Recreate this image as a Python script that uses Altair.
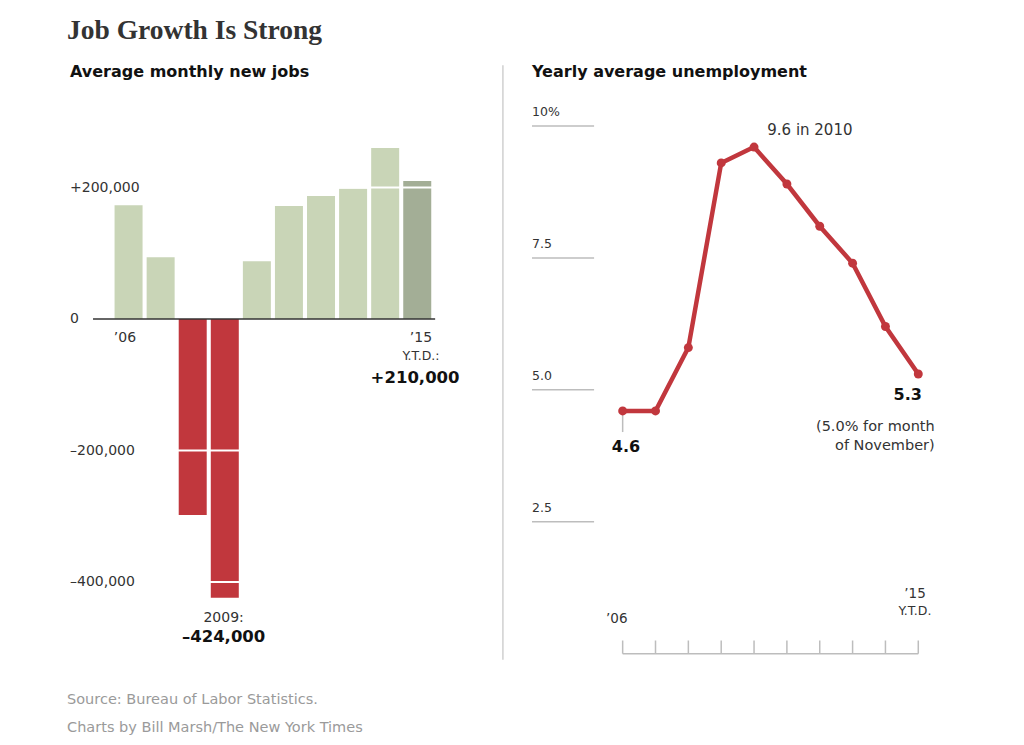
import altair as alt
import pandas as pd

# ---------------- data ----------------
years = list(range(2006, 2016))
new_jobs = [173000, 94000, -298000, -424000, 88000, 172000, 187000, 198000, 260000, 210000]
bar_kind = ["year", "year", "loss", "loss", "year", "year", "year", "year", "year", "ytd"]
unemployment = [4.6, 4.6, 5.8, 9.3, 9.6, 8.9, 8.1, 7.4, 6.2, 5.3]
job_ticks = [-400000, -200000, 0, 200000]
job_tick_labels = ["\u2013400,000", "\u2013200,000", "0", "+200,000"]
rate_ticks = [2.5, 5.0, 7.5, 10.0]
rate_tick_labels = ["2.5", "5.0", "7.5", "10%"]

SANS = "DejaVu Sans"
SERIF = "Liberation Serif"
INK = "#333333"
GREY = "#bdbdbd"
RED = "#c1373d"

# Both panels share one canvas; each has its own scales (explicit domain + range).
# ---------------- left panel: monthly new jobs ----------------
LX = [2004.33, 2016.52]
LX_RANGE = [62, 463]
LY = [-520000, 333000]
LY_RANGE = [653.0, 92.05]


def lx(f="x"):
    return alt.X(f"{f}:Q", scale=alt.Scale(domain=LX, range=LX_RANGE, nice=False, zero=False), axis=None)


def ly(f="y"):
    return alt.Y(f"{f}:Q", scale=alt.Scale(domain=LY, range=LY_RANGE, nice=False, zero=False), axis=None)


jobs_df = pd.DataFrame({"x": years, "y": new_jobs, "kind": bar_kind})

bars = alt.Chart(jobs_df).mark_bar(size=28).encode(
    x=lx(),
    y=ly(),
    y2=alt.datum(0),
    color=alt.Color("kind:N", legend=None,
                    scale=alt.Scale(domain=["year", "loss", "ytd"],
                                    range=["#c9d5b7", RED, "#a3ae96"])),
)

white_grid = alt.Chart(pd.DataFrame({
    "x": [2005.5] * 3, "x2": [2015.5] * 3, "y": [200000, -200000, -400000]
})).mark_rule(color="white", strokeWidth=2).encode(x=lx(), x2="x2:Q", y=ly())

zero_line = alt.Chart(pd.DataFrame({"x": [2005.03], "x2": [2015.43], "y": [0]})).mark_rule(
    color="#333333", strokeWidth=1.5).encode(x=lx(), x2="x2:Q", y=ly())

divider = alt.Chart(pd.DataFrame({"x": [2017.49], "y": [386000], "y2": [-518000]})).mark_rule(
    color="#d0d0d0", strokeWidth=1.5).encode(x=lx(), y=ly(), y2="y2:Q")


def ltext(rows, **kw):
    return alt.Chart(pd.DataFrame(rows)).mark_text(**kw).encode(x=lx(), y=ly(), text="t:N")


left_tick_text = ltext({"x": [2004.33] * 4, "y": job_ticks, "t": job_tick_labels},
                       font=SANS, fontSize=14, color=INK, align="left", baseline="middle")
title = ltext({"x": [2004.24], "y": [438000], "t": ["Job Growth Is Strong"]},
              font=SERIF, fontSize=27.5, fontWeight="bold", color=INK, align="left", baseline="middle")
left_sub = ltext({"x": [2004.33], "y": [375700], "t": ["Average monthly new jobs"]},
                 font=SANS, fontSize=16, fontWeight="bold", color="#111111", align="left",
                 baseline="middle")
left_year_labels = ltext({"x": [2006, 2015], "y": [-29000, -29000], "t": ["\u201906", "\u201915"]},
                         font=SANS, fontSize=14, color=INK)
ytd_label = ltext({"x": [2015], "y": [-56500], "t": ["Y.T.D.:"]},
                  font=SANS, fontSize=12.5, color=INK)
ytd_value = ltext({"x": [2014.82], "y": [-90000], "t": ["+210,000"]},
                  font=SANS, fontSize=16.5, fontWeight="bold", color="#111111")
low_label = ltext({"x": [2009], "y": [-455000], "t": ["2009:"]},
                  font=SANS, fontSize=14, color=INK)
low_value = ltext({"x": [2009], "y": [-484000], "t": ["\u2013424,000"]},
                  font=SANS, fontSize=16.5, fontWeight="bold", color="#111111")
footer = ltext({"x": [2004.24, 2004.24], "y": [-579500, -622000],
                "t": ["Source: Bureau of Labor Statistics.",
                      "Charts by Bill Marsh/The New York Times"]},
               font=SANS, fontSize=14.5, color="#9a9a9a", align="left")

# ---------------- right panel: yearly unemployment ----------------
RX = [2003.24, 2016.27]
RX_RANGE = [524, 952]
RY = [-0.2, 10.5]
RY_RANGE = [656.25, 91.6]


def rx(f="x"):
    return alt.X(f"{f}:Q", scale=alt.Scale(domain=RX, range=RX_RANGE, nice=False, zero=False), axis=None)


def ry(f="y"):
    return alt.Y(f"{f}:Q", scale=alt.Scale(domain=RY, range=RY_RANGE, nice=False, zero=False), axis=None)


rate_df = pd.DataFrame({"x": years, "y": unemployment})

grid_df = pd.DataFrame({"x": [2003.24] * 4, "x2": [2005.13] * 4, "y": rate_ticks, "t": rate_tick_labels})
short_grid = alt.Chart(grid_df).mark_rule(color=GREY, strokeWidth=1.5).encode(x=rx(), x2="x2:Q", y=ry())
grid_labels = alt.Chart(grid_df).mark_text(
    font=SANS, fontSize=12.5, color=INK, align="left", baseline="alphabetic", dy=-10
).encode(x=rx(), y=ry(), text="t:N")

base_axis = alt.Chart(pd.DataFrame({"x": [2006], "x2": [2015], "y": [0]})).mark_rule(
    color=GREY, strokeWidth=1.5).encode(x=rx(), x2="x2:Q", y=ry())
year_ticks = alt.Chart(pd.DataFrame({"x": years, "y": [0] * 10, "y2": [0.25] * 10})).mark_rule(
    color=GREY, strokeWidth=1.5).encode(x=rx(), y=ry(), y2="y2:Q")
leader = alt.Chart(pd.DataFrame({"x": [2006], "y": [4.6], "y2": [4.2]})).mark_rule(
    color=GREY, strokeWidth=1.5).encode(x=rx(), y=ry(), y2="y2:Q")

rate_line = alt.Chart(rate_df).mark_line(color=RED, strokeWidth=4.5).encode(x=rx(), y=ry())
rate_pts = alt.Chart(rate_df).mark_point(filled=True, color=RED, size=80, opacity=1).encode(x=rx(), y=ry())


def rtext(rows, **kw):
    return alt.Chart(pd.DataFrame(rows)).mark_text(**kw).encode(x=rx(), y=ry(), text="t:N")


right_sub = rtext({"x": [2003.24], "y": [11.02], "t": ["Yearly average unemployment"]},
                  font=SANS, fontSize=16, fontWeight="bold", color="#111111", align="left",
                  baseline="middle")
r_years = rtext({"x": [2005.82, 2014.9], "y": [0.65, 1.14], "t": ["\u201906", "\u201915"]},
                font=SANS, fontSize=13.5, color=INK)
r_ytd = rtext({"x": [2014.9], "y": [0.8], "t": ["Y.T.D."]}, font=SANS, fontSize=12.5, color=INK)
peak = rtext({"x": [2011.7], "y": [9.93], "t": ["9.6 in 2010"]}, font=SANS, fontSize=15, color=INK)
first_val = rtext({"x": [2006.1], "y": [3.91], "t": ["4.6"]},
                  font=SANS, fontSize=16, fontWeight="bold", color="#111111")
last_val = rtext({"x": [2015.11], "y": [4.9], "t": ["5.3"]},
                 font=SANS, fontSize=16, fontWeight="bold", color="#111111", align="right")
note = rtext({"x": [2015.5, 2015.5], "y": [4.3, 3.94], "t": ["(5.0% for month", "of November)"]},
             font=SANS, fontSize=14.5, color=INK, align="right")

layers = [
    bars, white_grid, zero_line, divider, left_tick_text, title, left_sub,
    left_year_labels, ytd_label, ytd_value, low_label, low_value, footer,
    short_grid, grid_labels, base_axis, year_ticks, leader, rate_line, rate_pts,
    right_sub, r_years, r_ytd, peak, first_val, last_val, note,
]

chart = alt.layer(*layers).resolve_scale(
    x="independent", y="independent", color="independent"
).properties(
    width=1008, height=729, padding=0,
    autosize=alt.AutoSizeParams(type="none"),
).configure_view(stroke=None)

chart.save("out.html", embed_options={"renderer": "svg", "actions": False})
